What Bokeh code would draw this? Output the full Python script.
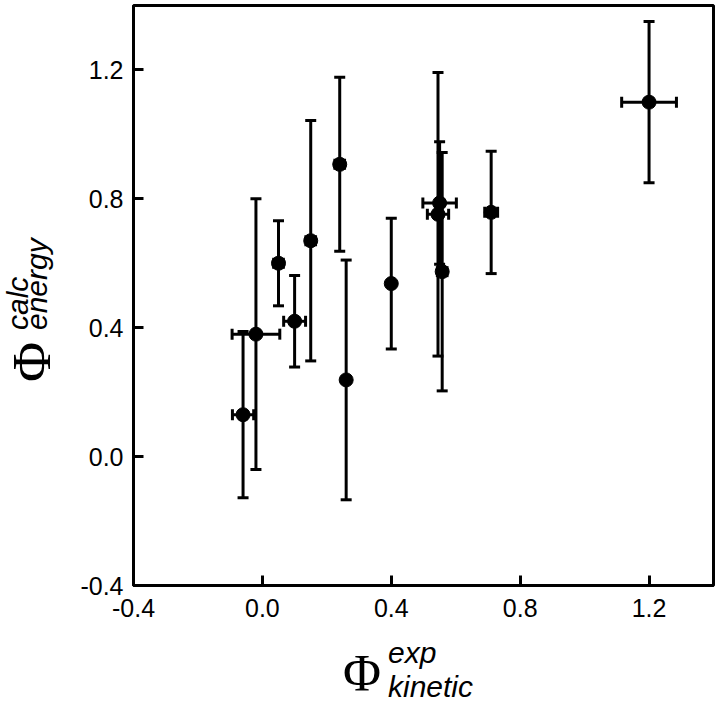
import numpy as np
from bokeh.plotting import figure
from bokeh.models import (ColumnDataSource, Whisker, TeeHead, FixedTicker,
                          PrintfTickFormatter, Range1d, Div)
from bokeh.layouts import row, column
from bokeh.embed import file_html
from bokeh.resources import INLINE

# ---- data ----
phi_exp = [-0.06, -0.02, 0.05, 0.10, 0.15, 0.24, 0.26, 0.40, 0.545, 0.55, 0.558, 0.71, 1.20]
phi_calc = [0.13, 0.38, 0.60, 0.42, 0.67, 0.907, 0.238, 0.537, 0.752, 0.787, 0.574, 0.758, 1.10]
err_exp = [0.033, 0.074, 0.015, 0.034, 0.015, 0.015, 0.0, 0.0, 0.033, 0.052, 0.015, 0.02, 0.085]
err_calc = [0.258, 0.42, 0.132, 0.142, 0.373, 0.27, 0.372, 0.203, 0.44, 0.19, 0.37, 0.19, 0.25]
ticks = [-0.4, 0.0, 0.4, 0.8, 1.2]

x = np.array(phi_exp); y = np.array(phi_calc)
ex = np.array(err_exp); ey = np.array(err_calc)
src = ColumnDataSource(dict(x=x, y=y, xl=x - ex, xu=x + ex, yl=y - ey, yu=y + ey))

FONT = "Liberation Sans"
SERIF = "Liberation Serif"

LEFT_W = 62          # width of the y-title strip
P_W, P_H = 656, 635  # main figure size

p = figure(frame_width=580, frame_height=580, width=P_W, height=P_H,
           x_range=Range1d(-0.4, 1.4), y_range=Range1d(-0.4, 1.4),
           output_backend="svg", toolbar_location=None,
           min_border_left=71, min_border_right=5, min_border_top=5,
           min_border_bottom=50)
p.xgrid.visible = False
p.ygrid.visible = False
p.outline_line_color = "black"
p.outline_line_width = 3
p.outline_line_alpha = 1.0

for ax in (p.xaxis[0], p.yaxis[0]):
    ax.ticker = FixedTicker(ticks=ticks)
    ax.formatter = PrintfTickFormatter(format="%.1f")
    ax.axis_line_width = 3
    ax.axis_line_color = "black"
    ax.major_tick_in = 10
    ax.major_tick_out = 0
    ax.major_tick_line_width = 3
    ax.major_tick_line_color = "black"
    ax.minor_tick_line_color = None
    ax.major_label_text_font = FONT
    ax.major_label_text_font_size = "25px"
    ax.major_label_text_color = "black"
    ax.major_label_standoff = 10
p.xaxis[0].major_label_standoff = 13

# error bars
def tee():
    return TeeHead(size=11, line_width=3, line_color="black")

p.add_layout(Whisker(source=src, base="x", upper="yu", lower="yl", dimension="height",
                     line_width=3, line_color="black", upper_head=tee(), lower_head=tee()))
p.add_layout(Whisker(source=src, base="y", upper="xu", lower="xl", dimension="width",
                     line_width=3, line_color="black", upper_head=tee(), lower_head=tee()))

p.scatter("x", "y", source=src, size=14, marker="circle",
          fill_color="black", line_color="black")

# ---- axis titles as real HTML text ----
def span(txt, left, top, family, size, italic=False):
    st = "italic" if italic else "normal"
    return (f'<span style="position:absolute;left:{left}px;top:{top}px;'
            f'font-family:\'{family}\';font-size:{size}px;font-style:{st};'
            f'line-height:1;white-space:nowrap;color:#000;">{txt}</span>')

xdiv_h = 704 - P_H
xtitle = (f'<div style="position:relative;width:{P_W}px;height:{xdiv_h}px;">'
          + span("Φ", 281, 13, SERIF, 52)
          + span("exp", 326, 2.5, FONT, 30, True)
          + span("kinetic", 326, 36.5, FONT, 30, True)
          + '</div>')
xdiv = Div(text=xtitle, width=P_W, height=xdiv_h, margin=(0, 0, 0, 0),
           styles={"overflow": "visible"})

ytitle = (f'<div style="position:relative;width:{LEFT_W}px;height:{P_H}px;">'
          f'<div style="position:absolute;left:0;top:0;width:{P_H}px;height:{LEFT_W}px;'
          f'transform-origin:0 0;transform:translate(0px,{P_H}px) rotate(-90deg);">'
          + span("Φ", 253, 4, SERIF, 55)
          + span("calc", 305, 3, FONT, 30, True)
          + span("energy", 305, 22, FONT, 30, True)
          + '</div></div>')
ydiv = Div(text=ytitle, width=LEFT_W, height=P_H, margin=(0, 0, 0, 0),
           styles={"overflow": "visible"})

layout = row(ydiv, column(p, xdiv, spacing=0), spacing=0)

open("out.html", "w").write(file_html(layout, INLINE))
